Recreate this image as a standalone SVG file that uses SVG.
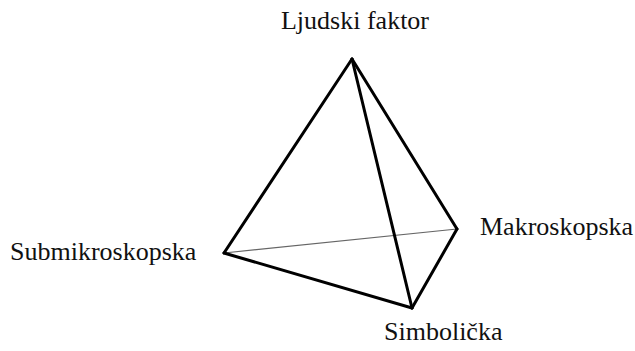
<svg xmlns="http://www.w3.org/2000/svg" width="635" height="351" viewBox="0 0 635 351">
<style>
.e{stroke:#000;stroke-width:3;stroke-linecap:round;stroke-linejoin:round;fill:none}
.h{stroke:#666;stroke-width:1.2;fill:none}
.t{font-family:"Liberation Serif",serif;font-size:26px;fill:#111}
</style>
<rect width="635" height="351" fill="#fff"/>
<g id="edges">
<line class="h" x1="224" y1="253" x2="457" y2="229"/>
<line class="e" x1="352" y1="59" x2="224" y2="253"/>
<line class="e" x1="352" y1="59" x2="412" y2="308"/>
<line class="e" x1="352" y1="59" x2="457" y2="229"/>
<line class="e" x1="224" y1="253" x2="412" y2="308"/>
<line class="e" x1="457" y1="229" x2="412" y2="308"/>
</g>
<g id="top"><text class="t" x="355" y="29" text-anchor="middle">Ljudski faktor</text></g>
<g id="left"><text class="t" x="10" y="260">Submikroskopska</text></g>
<g id="right"><text class="t" x="480" y="235">Makroskopska</text></g>
<g id="bottom"><text class="t" x="384" y="340">Simbolička</text></g>
</svg>
